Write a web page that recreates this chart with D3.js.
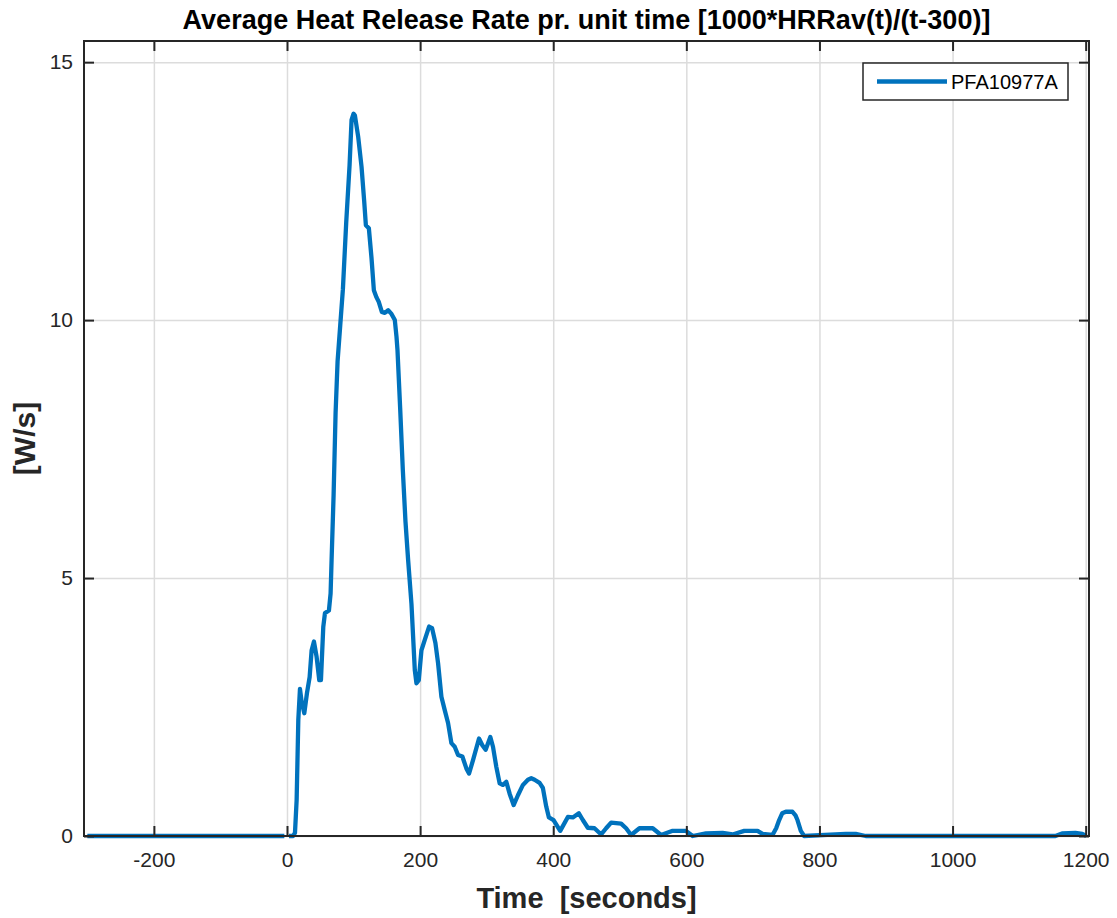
<!DOCTYPE html>
<html>
<head>
<meta charset="utf-8">
<script src="https://cdn.jsdelivr.net/npm/d3@7"></script>
<style>
  body { margin: 0; background: #fff; }
  svg { font-family: "Liberation Sans", Arial, sans-serif; }
</style>
</head>
<body>
<script>
// time [s] and average heat release rate [W/s]
var times = [-300, -4, null, 3, 9, 12, 14.5, 17, 19.5, 22, 26, 30, 34, 37, 40.5, 44.5, 48.5, 51, 54.5, 57, 63, 65.5, 67,
  70, 73, 76, 80, 84, 89, 94, 97, 100, 102, 107, 112, 116, 118.5, 123, 127, 130.5, 134.5, 138, 142.5, 147, 152, 157,
  162, 164.5, 166, 170, 174, 178, 182, 187, 192, 194.5, 198, 202, 207, 213.5, 218, 223, 227, 232, 237, 242, 247, 252,
  257, 263.5, 269.5, 273.5, 279.5, 288.5, 293.5, 298.5, 305.5, 309.5, 314.5, 319.5, 324.5, 329.5, 334.5, 340.5, 347,
  354.5, 362, 367, 372, 379.5, 384.5, 389.5, 393.5, 400.5, 410.5, 422, 429.5, 438.5, 444.5, 452, 462, 472, 479.5, 487,
  502, 509.5, 517, 529.5, 549.5, 562, 579.5, 599.5, 609.5, 629.5, 654.5, 669.5, 687, 707, 714.5, 729.5, 735, 739.5,
  744, 749.5, 759.5, 764, 767, 772, 777, 839.5, 854.5, 869.5, 1154.5, 1164.5, 1184.5, 1195, 1201];
var hrr = [0, 0, null, 0, 0, 0.06, 0.7, 2.25, 2.85, 2.6, 2.38, 2.77, 3.08, 3.6, 3.77, 3.47, 3.02, 3.02, 4.05, 4.32, 4.37, 4.7, 5.35,
  6.6, 8.2, 9.2, 9.9, 10.6, 11.9, 13.0, 13.88, 14.0, 13.97, 13.55, 12.97, 12.3, 11.84, 11.78, 11.2, 10.58, 10.44, 10.35, 10.16, 10.14, 10.19, 10.12,
  10.0, 9.68, 9.42, 8.3, 7.1, 6.1, 5.35, 4.5, 3.22, 2.96, 3.02, 3.6, 3.8, 4.06, 4.03, 3.74, 3.35, 2.7, 2.44, 2.19, 1.8, 1.73,
  1.57, 1.54, 1.31, 1.21, 1.47, 1.89, 1.76, 1.67, 1.92, 1.73, 1.34, 1.02, 0.99, 1.05, 0.82, 0.6, 0.79,
  0.99, 1.09, 1.12, 1.09, 1.03, 0.93, 0.57, 0.36, 0.31, 0.1, 0.37, 0.36, 0.44, 0.31, 0.16, 0.15, 0.03, 0.15, 0.26,
  0.24, 0.15, 0.02, 0.15, 0.15, 0.02, 0.1, 0.1, 0.0, 0.05, 0.06, 0.03, 0.1, 0.1, 0.04, 0.02, 0.15, 0.31,
  0.44, 0.47, 0.47, 0.4, 0.31, 0.1, 0.0, 0.04, 0.04, 0, 0, 0.05, 0.06, 0.04, 0];
var xTicks = [-200, 0, 200, 400, 600, 800, 1000, 1200];
var yTicks = [0, 5, 10, 15];
var seriesName = "PFA10977A";

var width = 1117, height = 918;
var m = { left: 84, right: 28, top: 41, bottom: 82 };
var w = width - m.left - m.right, h = height - m.top - m.bottom;
var blue = "#0072BD", ink = "#262626";
var fmt = d => String(d);

var svg = d3.select("body").append("svg").attr("width", width).attr("height", height);
var g = svg.append("g").attr("transform", "translate(" + m.left + "," + m.top + ")");

var x = d3.scaleLinear().domain([-305, 1205]).range([0, w]);
var y = d3.scaleLinear().domain([0, 15.41]).range([h, 0]);

// grid
g.append("g").attr("transform", "translate(0," + h + ")")
  .call(d3.axisBottom(x).tickValues(xTicks).tickSize(-h).tickFormat(""))
  .call(a => a.select(".domain").remove())
  .selectAll("line").attr("stroke", "#dcdcdc").attr("stroke-width", 1.5);
g.append("g")
  .call(d3.axisLeft(y).tickValues(yTicks).tickSize(-w).tickFormat(""))
  .call(a => a.select(".domain").remove())
  .selectAll("line").attr("stroke", "#dcdcdc").attr("stroke-width", 1.5);

// data line
var pts = times.map((t, i) => [t, hrr[i]]);
var line = d3.line().defined(d => d[0] !== null).x(d => x(d[0])).y(d => y(d[1]));
g.append("path").datum(pts).attr("d", line)
  .attr("fill", "none").attr("stroke", blue).attr("stroke-width", 4.3).attr("stroke-linejoin", "round");

// axes, ticks pointing inward on all four sides
function styleAxis(a) {
  a.select(".domain").remove();
  a.selectAll("line").attr("stroke", ink).attr("stroke-width", 2);
  a.selectAll("text").attr("fill", ink).style("font-size", "21px");
}
g.append("g").attr("transform", "translate(0," + h + ")")
  .call(d3.axisBottom(x).tickValues(xTicks).tickFormat(fmt).tickSizeInner(-10).tickSizeOuter(0).tickPadding(16))
  .call(styleAxis);
g.append("g")
  .call(d3.axisTop(x).tickValues(xTicks).tickSizeInner(-10).tickSizeOuter(0).tickFormat(""))
  .call(styleAxis);
g.append("g")
  .call(d3.axisLeft(y).tickValues(yTicks).tickFormat(fmt).tickSizeInner(-10).tickSizeOuter(0).tickPadding(11))
  .call(styleAxis);
g.append("g").attr("transform", "translate(" + w + ",0)")
  .call(d3.axisRight(y).tickValues(yTicks).tickSizeInner(-10).tickSizeOuter(0).tickFormat(""))
  .call(styleAxis);

g.append("rect").attr("width", w).attr("height", h)
  .attr("fill", "none").attr("stroke", ink).attr("stroke-width", 2);

// title and axis labels
svg.append("text").attr("x", m.left + w / 2).attr("y", 29).attr("text-anchor", "middle")
  .style("font-size", "27px").style("font-weight", "bold").attr("fill", "#000")
  .text("Average Heat Release Rate pr. unit time [1000*HRRav(t)/(t-300)]");
svg.append("text").attr("x", m.left + w / 2).attr("y", 908).attr("text-anchor", "middle")
  .style("font-size", "29px").style("font-weight", "bold").style("white-space", "pre").attr("fill", ink)
  .text("Time  [seconds]");
svg.append("text").attr("transform", "translate(35," + (m.top + h / 2) + ") rotate(-90)")
  .attr("text-anchor", "middle").style("font-size", "30px").style("font-weight", "bold").attr("fill", ink)
  .text("[W/s]");

// legend
var lg = svg.append("g").attr("transform", "translate(863,63)");
lg.append("rect").attr("width", 205).attr("height", 37)
  .attr("fill", "#fff").attr("stroke", ink).attr("stroke-width", 1.5);
lg.append("line").attr("x1", 14).attr("x2", 84).attr("y1", 18.5).attr("y2", 18.5)
  .attr("stroke", blue).attr("stroke-width", 4.3);
lg.append("text").attr("x", 88).attr("y", 26).style("font-size", "20px").attr("fill", "#000")
  .text(seriesName);
</script>
</body>
</html>
